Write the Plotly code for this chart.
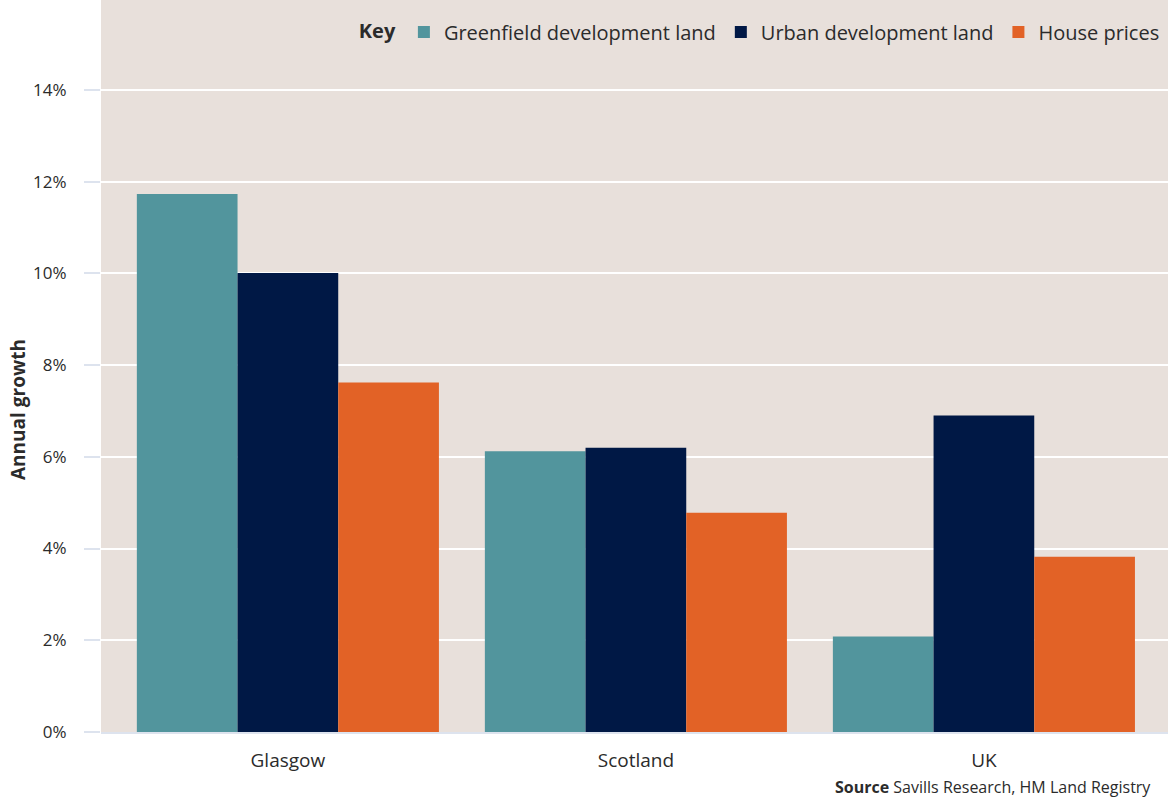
import plotly.graph_objects as go

categories = ["Glasgow", "Scotland", "UK"]
greenfield = [11.73, 6.12, 2.08]
urban = [10.01, 6.20, 6.90]
house = [7.62, 4.78, 3.82]
tick_vals = [0, 2, 4, 6, 8, 10, 12, 14]
tick_text = ["0%", "2%", "4%", "6%", "8%", "10%", "12%", "14%"]

FONT = "'Open Sans', sans-serif"
TXT = "#2b2b2b"

fig = go.Figure()
for name, vals, col in [
    ("Greenfield development land", greenfield, "#52959D"),
    ("Urban development land", urban, "#001845"),
    ("House prices", house, "#E26226"),
]:
    fig.add_trace(go.Bar(x=[0, 1, 2], y=vals, name=name, marker=dict(color=col, line=dict(width=0))))

fig.update_layout(
    width=1168, height=797,
    margin=dict(l=101, r=0, t=0, b=65),
    paper_bgcolor="white", plot_bgcolor="#E8E0DB",
    barmode="group", bargap=0.132, bargroupgap=0,
    font=dict(family=FONT, color=TXT, size=16),
    legend=dict(
        orientation="h", x=0.997, xanchor="right", y=0.983, yanchor="top",
        bgcolor="rgba(0,0,0,0)", font=dict(size=20, color=TXT),
        title=dict(text="<b>Key</b>", font=dict(size=20, color=TXT)),
        itemsizing="constant", traceorder="normal", itemwidth=30,
    ),
    xaxis=dict(
        range=[-0.537, 2.529], tickvals=[0, 1, 2], ticktext=categories,
        showgrid=False, zeroline=False, showline=True, linecolor="#DDE3EE", linewidth=2,
        ticks="", tickfont=dict(size=19, color=TXT), ticklabelstandoff=10,
    ),
    yaxis=dict(
        range=[0, 15.96], tickvals=tick_vals, ticktext=tick_text,
        showgrid=True, gridcolor="white", gridwidth=2, zeroline=False,
        ticks="outside", ticklen=16, tickcolor="#DDE3EE", tickwidth=2,
        ticklabelstandoff=14, tickfont=dict(size=17, color=TXT),
    ),
    annotations=[
        dict(
            text="<b>Source</b> Savills Research, HM Land Registry",
            xref="paper", yref="paper", x=(833 - 101) / 1067, y=-0.075,
            xanchor="left", yanchor="middle", showarrow=False,
            font=dict(size=16, color=TXT),
        ),
        dict(
            text="<b>Annual growth</b>", textangle=-90,
            xref="paper", yref="paper", x=(18 - 101) / 1067, y=(732 - 410) / 732,
            xanchor="center", yanchor="middle", showarrow=False,
            font=dict(size=19, color=TXT),
        ),
    ],
)

fig.write_html("out.html", config={"displayModeBar": False},
               post_script="document.body.style.margin='0';")
